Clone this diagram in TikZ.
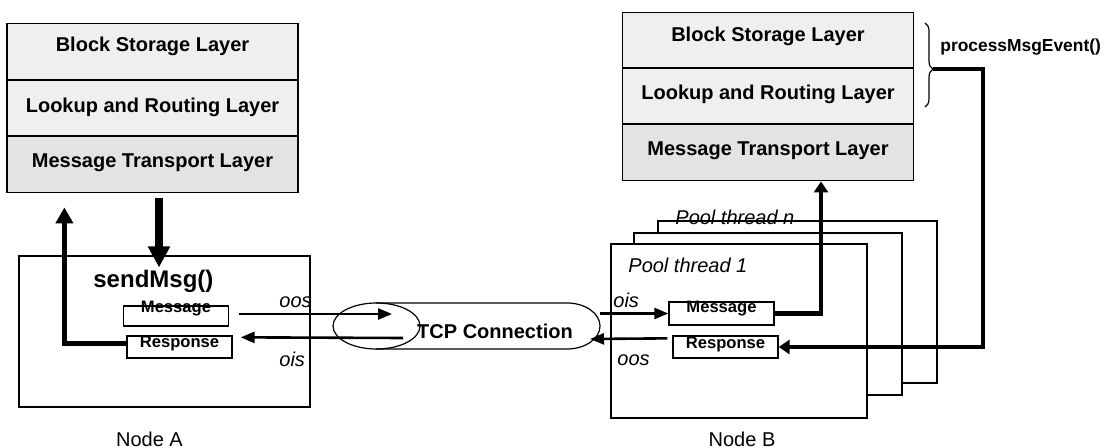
\documentclass[tikz,border=0pt]{standalone}
\usepackage{fontspec}
\setmainfont{Liberation Sans}
\usetikzlibrary{arrows.meta,decorations.pathreplacing,calc}
\definecolor{layerlight}{HTML}{EFEFEF}
\definecolor{layerdark}{HTML}{E3E3E3}

\begin{document}
\begin{tikzpicture}[x=0.5pt,y=-0.5pt,
  layer/.style={draw, line width=0.75pt, fill=layerlight, minimum width=145.5pt,
    minimum height=28.2pt, inner sep=0pt},
  layerlow/.style={layer, fill=layerdark},
  layertxt/.style={anchor=base, inner sep=0pt, font=\bfseries\fontsize{10pt}{12pt}\selectfont},
  poolbox/.style={draw, line width=0.6pt, fill=white, inner sep=0pt},
  msgbox/.style={draw, line width=0.65pt, fill=white, inner sep=0pt, minimum width=52.5pt},
  boxtxt/.style={anchor=base, inner sep=0pt, font=\bfseries\fontsize{8.3pt}{10pt}\selectfont},
  streamtxt/.style={anchor=base west, inner sep=0pt, font=\itshape\fontsize{10pt}{12pt}\selectfont},
  captxt/.style={anchor=base, inner sep=0pt, font=\fontsize{10pt}{12pt}\selectfont},
  thinarrow/.style={line width=1.3pt, -{Triangle[length=7pt,width=5.5pt]}},
  bigdown/.style={line width=4pt, -{Triangle[length=10.5pt,width=10.5pt]}},
  thickA/.style={line width=2.5pt, -{Triangle[length=8pt,width=8.5pt]}},
  thickB/.style={line width=2.2pt, -{Triangle[length=5.5pt,width=7pt]}}
]
\useasboundingbox (0,0) rectangle (1117,448);

% ---- layer stack of node A ----
\node[layer]    (lsl1) at (152.5,51.5) {};
\node[layer]    (lsl2) at (152.5,108) {};
\node[layerlow] (lsl3) at (152.5,164.4) {};
\node[layertxt] (lsl1t) at (152.5,52) {Block Storage Layer};
\node[layertxt] (lsl2t) at (152.5,113) {Lookup and Routing Layer};
\node[layertxt] (lsl3t) at (152.5,168) {Message Transport Layer};

% ---- layer stack of node B ----
\node[layer]    (rsl1) at (768,40.5) {};
\node[layer]    (rsl2) at (768,96) {};
\node[layerlow] (rsl3) at (768,152.5) {};
\node[layertxt] (rsl1t) at (768,42) {Block Storage Layer};
\node[layertxt] (rsl2t) at (768,100) {Lookup and Routing Layer};
\node[layertxt] (rsl3t) at (768,156) {Message Transport Layer};

% brace over the two upper layers
\draw[line width=0.6pt, decorate, decoration={brace, amplitude=4pt, aspect=0.55}]
  (925,23) -- (925,107);
\coordinate (ptip) at (933,69);
\node[anchor=base west, inner sep=0pt, font=\bfseries\fontsize{8.7pt}{10pt}\selectfont]
  (pme) at (940,52) {processMsgEvent()};

% ---- thread pool of node B (back to front) ----
\node[poolbox, minimum width=139.5pt, minimum height=81pt] (pool3) at (797.5,302) {};
\node[streamtxt] (pooln) at (675,225) {Pool thread \textit{n}};
\node[poolbox, minimum width=134pt, minimum height=81pt] (pool2) at (768,314) {};
\node[poolbox, minimum width=128pt, minimum height=87pt] (pool1) at (739,331) {};
\node[streamtxt] (pool1t) at (628,273) {Pool thread 1};

\node[msgbox, minimum height=11.5pt] (bmsg)  at (721.5,313.5) {};
\node[msgbox, minimum height=11pt]   (bresp) at (725.5,347) {};
\node[boxtxt] (bmsgt)  at ([yshift=0.3pt]bmsg.center) {Message};
\node[boxtxt] (brespt) at ([yshift=-0.5pt]bresp.center) {Response};

% ---- node A ----
\node[poolbox, minimum width=145.5pt, minimum height=75.5pt] (nodeA) at (164.5,331.5) {};
\node[anchor=base west, inner sep=0pt, font=\bfseries\fontsize{12pt}{14pt}\selectfont]
  (send) at (93,288) {sendMsg()};
\node[msgbox, minimum height=10pt] (amsg)  at (176,316) {};
\node[msgbox, minimum height=11pt] (aresp) at (179.5,347) {};
\node[boxtxt] (amsgt)  at ([yshift=1.5pt]amsg.center) {Message};
\node[boxtxt] (arespt) at (aresp.center) {Response};

% ---- TCP connection ----
\draw[line width=0.6pt] (376,303) -- (567,303)
  arc[start angle=90, end angle=-90, x radius=16.5pt, y radius=11.5pt] -- (376,349);
\draw[line width=0.6pt] (376.5,326) ellipse[x radius=21.75pt, y radius=11.5pt];
\node[anchor=base, inner sep=0pt, font=\bfseries\fontsize{10pt}{12pt}\selectfont]
  (tcp) at (495,338) {TCP Connection};
\coordinate (tcpinA)  at (392,314);
\coordinate (tcpoutA) at (403,338);
\coordinate (tcpinB)  at (600,313.5);
\coordinate (tcpoutB) at (590,339);

% ---- streams ----
\draw[thinarrow] ([shift={(5pt,1pt)}]amsg.east) -- (tcpinA);
\draw[thinarrow] (tcpoutA) -- ([shift={(4pt,-1pt)}]aresp.north east);
\draw[thinarrow] (tcpinB) -- (bmsg.west);
\draw[thinarrow] ([shift={(-2.5pt,-1.5pt)}]bresp.north west) -- (tcpoutB);
\node[streamtxt] (oosA) at (279,307) {oos};
\node[streamtxt] (oisA) at (279,366) {ois};
\node[streamtxt] (oisB) at (613,307) {ois};
\node[streamtxt] (oosB) at (617,365) {oos};

% ---- calls between layers and node A ----
\coordinate (dA) at ([xshift=3.25pt,yshift=-2.5pt]lsl3.south);
\draw[bigdown] (dA) -- ($(dA |- nodeA.north)+(0,12)$);
\draw[thickA] ([yshift=2pt]aresp.west) -| ($(nodeA.north west)+(46,-48)$);

% ---- calls between layers and node B ----
\draw[thickB] (bmsg.east) -| ([xshift=26.5pt]rsl3.south);
\draw[thickB] (ptip) -- ++(50,0) |- (bresp.east);

% ---- captions ----
\node[captxt] (capA) at (149.5,446) {Node A};
\node[captxt] (capB) at (742,446) {Node B};
\end{tikzpicture}
\end{document}
